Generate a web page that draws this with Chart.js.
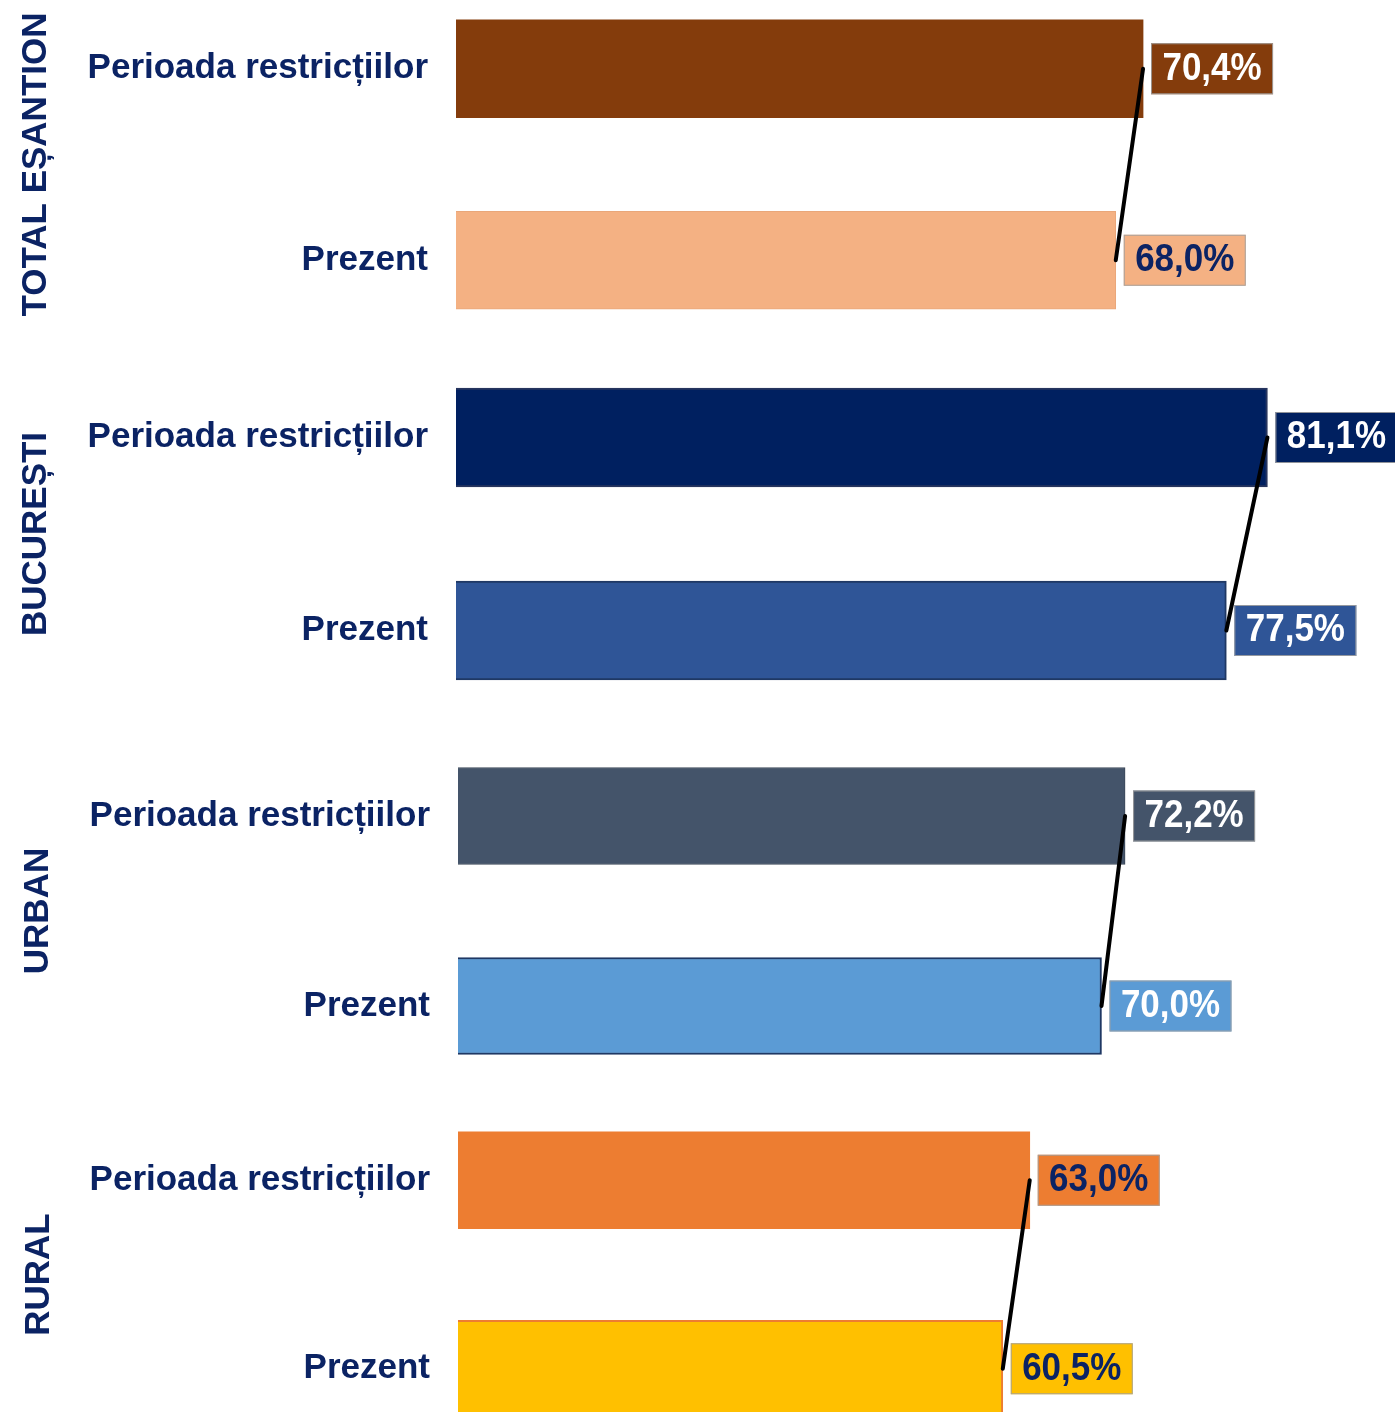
<!DOCTYPE html>
<html><head><meta charset="utf-8">
<script src="https://cdn.jsdelivr.net/npm/chart.js@4"></script>
<style>
html,body{margin:0;padding:0;width:1395px;height:1412px;overflow:hidden;background:#fff;}
.c{position:absolute;left:0;width:1395px;}
</style></head><body>
<div class="c" id="w0"><canvas id="c0"></canvas></div>
<div class="c" id="w1"><canvas id="c1"></canvas></div>
<div class="c" id="w2"><canvas id="c2"></canvas></div>
<div class="c" id="w3"><canvas id="c3"></canvas></div>
<script>
// ---- data ----
const groupNames = ['TOTAL EȘANTION', 'BUCUREȘTI', 'URBAN', 'RURAL'];
const periodLabels = ['Perioada restricțiilor', 'Prezent'];
const totalValues = [70.4, 68.0];
const bucurestiValues = [81.1, 77.5];
const urbanValues = [72.2, 70.0];
const ruralValues = [63.0, 60.5];
const groupValues = [totalValues, bucurestiValues, urbanValues, ruralValues];
const axisMin = 10;
const axisMax = 90;

// ---- styles ----
const NAVY = '#0B2364';
const barColors = [['#843C0C', '#F4B183'], ['#002060', '#2F5597'], ['#44546A', '#5B9BD5'], ['#ED7D31', '#FFC000']];
const barBorderColors = [['#843C0C', '#E9A77A'], ['#27355E', '#1F3864'], ['#3C4758', '#1F3864'], ['#ED7D31', '#ED7D31']];
const barBorderWidths = [[0, 1], [2, 2], [1, 2], [0, 2]];
const labelTextColors = [['#FFFFFF', NAVY], ['#FFFFFF', '#FFFFFF'], ['#FFFFFF', '#FFFFFF'], [NAVY, NAVY]];
// wrapper top/height include the 49px tick-label padding Chart.js adds above and below the plot area
const layouts = [
  {top: -76, height: 481, left: 456, right: 29, thick: 98, titlePad: 15},
  {top: 292, height: 484, left: 456, right: 26, thick: 99, titlePad: 15},
  {top: 672, height: 478, left: 458, right: 79, thick: 97, titlePad: 17},
  {top: 1037, height: 475, left: 458, right: 74, thick: 97, titlePad: 18}
];

const valueBoxPlugin = {
  id: 'valueBoxes',
  afterDatasetsDraw(chart, args, opts) {
    const meta = chart.getDatasetMeta(0);
    const ctx = chart.ctx;
    meta.data.forEach((el, i) => {
      const v = chart.data.datasets[0].data[i];
      const txt = v.toFixed(1).replace('.', ',') + '%';
      const bw = 122, bh = 51;
      const bx = el.x + 8, by = el.y - bh / 2;
      ctx.save();
      ctx.fillStyle = opts.fill[i];
      ctx.fillRect(bx, by, bw, bh);
      ctx.strokeStyle = 'rgba(160,160,160,0.9)';
      ctx.lineWidth = 1;
      ctx.strokeRect(bx + 0.5, by + 0.5, bw - 1, bh - 1);
      ctx.translate(bx + bw / 2, el.y);
      ctx.scale(1, 1.12);
      ctx.font = 'bold 35px "Liberation Sans", Arial, sans-serif';
      ctx.textAlign = 'center';
      ctx.textBaseline = 'middle';
      ctx.fillStyle = opts.text[i];
      ctx.fillText(txt, 0, 0);
      ctx.restore();
    });
  }
};

groupValues.forEach((vals, g) => {
  const L = layouts[g];
  const wrap = document.getElementById('w' + g);
  wrap.style.top = L.top + 'px';
  wrap.style.height = L.height + 'px';
  new Chart(document.getElementById('c' + g), {
    type: 'bar',
    data: {
      labels: periodLabels,
      datasets: [
        {
          type: 'bar',
          data: vals,
          backgroundColor: barColors[g],
          borderColor: barBorderColors[g],
          borderWidth: barBorderWidths[g],
          borderSkipped: false,
          barThickness: L.thick,
          indexAxis: 'y',
          order: 1
        },
        {
          type: 'line',
          data: vals,
          borderColor: '#000000',
          borderWidth: 4,
          borderCapStyle: 'round',
          pointRadius: 0,
          fill: false,
          indexAxis: 'y',
          order: 0
        }
      ]
    },
    options: {
      indexAxis: 'y',
      responsive: true,
      maintainAspectRatio: false,
      animation: false,
      layout: {padding: {left: 0, right: L.right, top: 0, bottom: 0}},
      plugins: {
        legend: {display: false},
        tooltip: {enabled: false},
        valueBoxes: {fill: barColors[g], text: labelTextColors[g]}
      },
      scales: {
        x: {display: false, min: axisMin, max: axisMax},
        y: {
          type: 'category',
          grid: {display: false, drawTicks: false},
          border: {display: false},
          ticks: {
            color: NAVY,
            padding: 28,
            font: {family: '"Liberation Sans", Arial, sans-serif', size: 35, weight: 'bold'}
          },
          title: {
            display: true,
            text: groupNames[g],
            color: NAVY,
            padding: {top: L.titlePad, bottom: 0},
            font: {family: '"Liberation Sans", Arial, sans-serif', size: 35, weight: 'bold'}
          },
          afterFit: (s) => { s.width = L.left; }
        }
      }
    },
    plugins: [valueBoxPlugin]
  });
});
</script>
</body></html>
